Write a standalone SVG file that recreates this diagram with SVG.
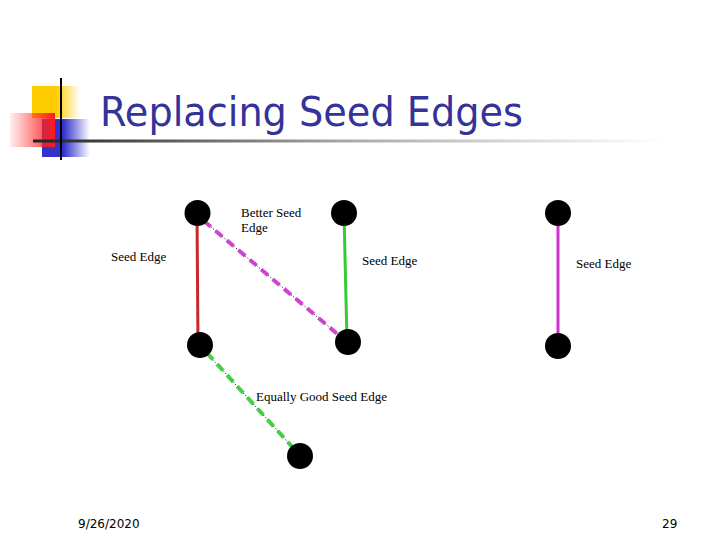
<svg xmlns="http://www.w3.org/2000/svg" width="720" height="540" viewBox="0 0 720 540">
<defs>
<linearGradient id="gy" x1="0" y1="0" x2="1" y2="0"><stop offset="0" stop-color="#ffcc00"/><stop offset="0.5" stop-color="#ffcc00"/><stop offset="1" stop-color="#ffcc00" stop-opacity="0"/></linearGradient>
<linearGradient id="gr" x1="0" y1="0" x2="1" y2="0"><stop offset="0" stop-color="#ff3333" stop-opacity="0.08"/><stop offset="1" stop-color="#ff1a1a"/></linearGradient>
<linearGradient id="gb" x1="0" y1="0" x2="1" y2="0"><stop offset="0" stop-color="#3333cc"/><stop offset="0.45" stop-color="#3333cc"/><stop offset="1" stop-color="#3333cc" stop-opacity="0"/></linearGradient>
<linearGradient id="gl" x1="0" y1="0" x2="1" y2="0"><stop offset="0" stop-color="#222222"/><stop offset="0.5" stop-color="#aaaaaa"/><stop offset="1" stop-color="#ffffff"/></linearGradient>
</defs>
<style>
.node{fill:#000}
.lbl{font-family:"Liberation Serif",serif;font-size:13px;fill:#000}
.foot{font-family:"DejaVu Sans","Liberation Sans",sans-serif;font-size:12px;fill:#000}
.dot{stroke:#000;stroke-width:1;stroke-dasharray:1 2}
</style>
<rect width="720" height="540" fill="#fff"/>
<g id="decoration">
<rect x="32" y="86" width="48" height="32" fill="url(#gy)"/>
<rect x="42" y="119" width="48" height="38" fill="url(#gb)"/>
<rect x="10" y="113" width="45" height="34" fill="url(#gr)"/>
<rect x="33" y="139.5" width="630" height="3" fill="url(#gl)"/>
<rect x="60" y="78" width="2" height="82" fill="#000"/>
</g>
<text id="title" x="100" y="126" font-family="Tahoma,'DejaVu Sans','Liberation Sans',sans-serif" font-size="41" fill="#333399" textLength="423" lengthAdjust="spacingAndGlyphs">Replacing Seed Edges</text>
<g id="connectors">
<line x1="197" y1="213" x2="198" y2="345" stroke="#c8282a" stroke-width="3"/>
<line x1="344" y1="213" x2="347" y2="342" stroke="#33cc33" stroke-width="3"/>
<line x1="558" y1="213" x2="558" y2="345" stroke="#cc33cc" stroke-width="3"/>
<line x1="204" y1="221" x2="341" y2="337" class="dot"/>
<line x1="204" y1="221" x2="341" y2="337" stroke="#cc33cc" stroke-width="4" stroke-dasharray="9 6" stroke-opacity="0.9"/>
<line x1="207" y1="353" x2="296" y2="451" class="dot"/>
<line x1="207" y1="353" x2="296" y2="451" stroke="#33cc33" stroke-width="4" stroke-dasharray="9 6" stroke-opacity="0.9"/>
</g>
<g id="nA"><circle class="node" cx="197.5" cy="213" r="13"/></g>
<g id="nB"><circle class="node" cx="344" cy="213" r="13"/></g>
<g id="nC"><circle class="node" cx="558" cy="213" r="13"/></g>
<g id="nD"><circle class="node" cx="200" cy="345" r="13"/></g>
<g id="nE"><circle class="node" cx="348" cy="342" r="13"/></g>
<g id="nF"><circle class="node" cx="558" cy="346" r="13"/></g>
<g id="nG"><circle class="node" cx="300" cy="456" r="13"/></g>
<g id="labels">
<text class="lbl" x="111" y="261">Seed Edge</text>
<text class="lbl" x="241" y="217">Better Seed</text>
<text class="lbl" x="241" y="232">Edge</text>
<text class="lbl" x="362" y="265">Seed Edge</text>
<text class="lbl" x="576" y="268">Seed Edge</text>
<text class="lbl" x="256" y="401">Equally Good Seed Edge</text>
</g>
<text class="foot" x="78" y="528">9/26/2020</text>
<text class="foot" x="662" y="528">29</text>
</svg>
